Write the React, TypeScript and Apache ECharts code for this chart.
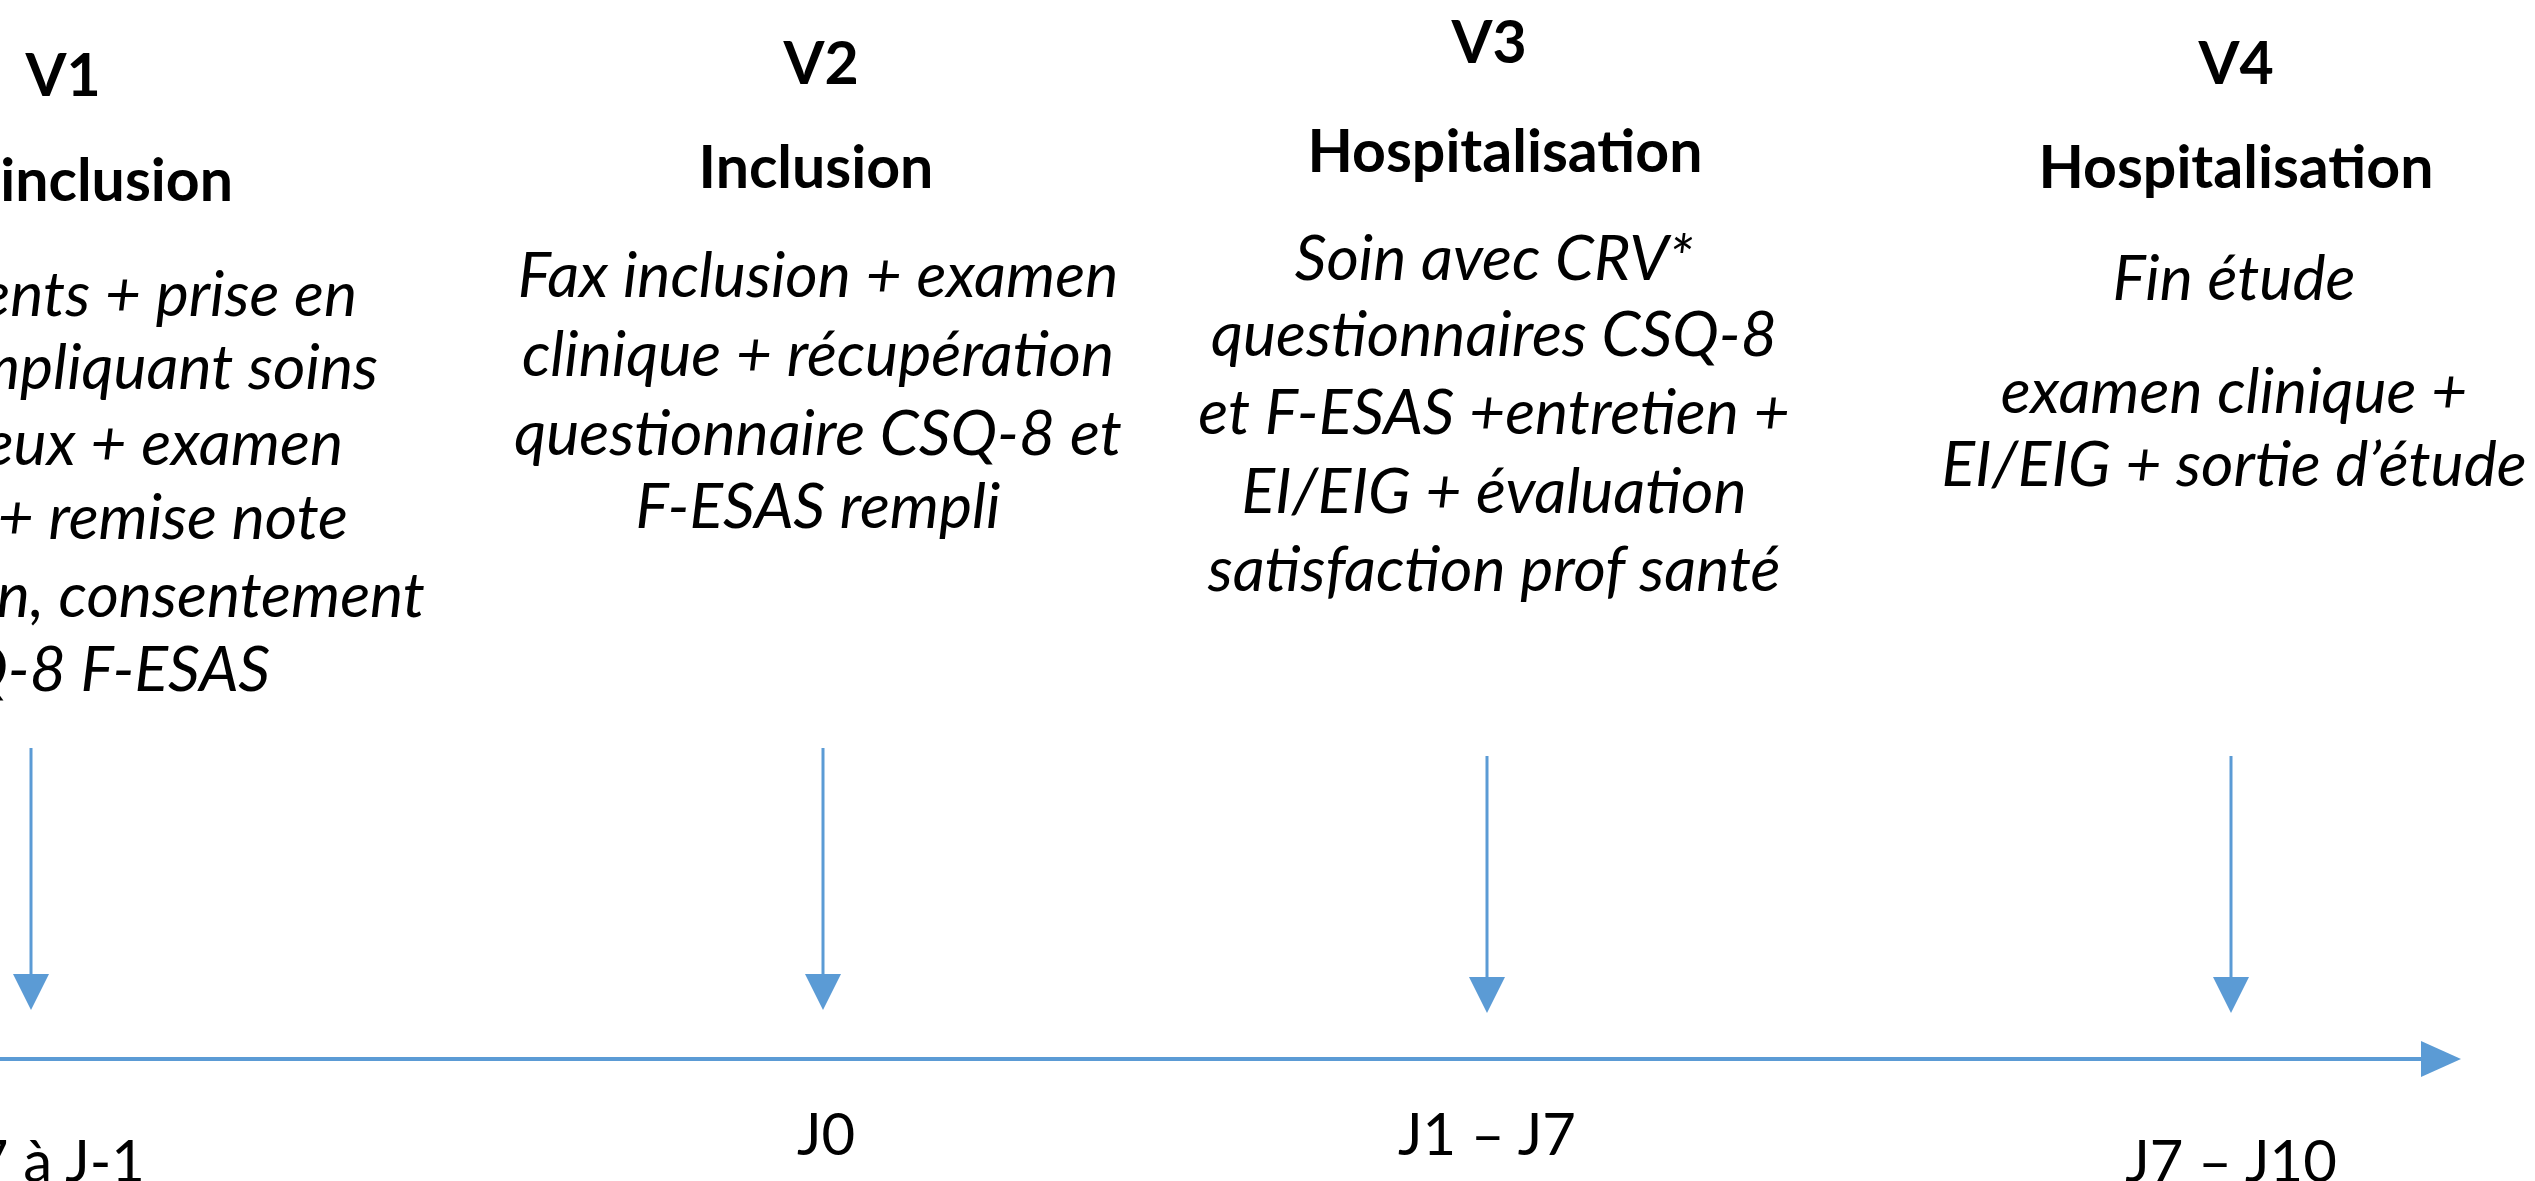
import React, { useEffect, useRef } from "react";
import * as echarts from "echarts";

const W = 2535;
const H = 1181;

// ---- content ----
const visitLabels = ["V1", "V2", "V3", "V4"];
const visitTitles = ["Pré-inclusion", "Inclusion", "Hospitalisation", "Hospitalisation"];
const visitDescriptions = [
  [
    "Sélection patients + prise en",
    "charge impliquant soins",
    "douloureux + examen",
    "clinique + remise note",
    "d'information, consentement",
    "et CSQ-8 F-ESAS",
  ],
  ["Fax inclusion + examen", "clinique + récupération", "questionnaire CSQ-8 et", "F-ESAS rempli"],
  ["Soin avec CRV*", "questionnaires CSQ-8", "et F-ESAS +entretien +", "EI/EIG + évaluation", "satisfaction prof santé"],
  ["Fin étude", "examen clinique +", "EI/EIG + sortie d’étude"],
];
const dayLabels = ["J-7 à J-1", "J0", "J1 – J7", "J7 – J10"];

// positions of the visits on the timeline (layout units, 0..W)
const visitPositions = [31, 823, 1487, 2231];
const timelineStart = 0;
const timelineEnd = 2461;

// ---- layout (not data) ----
const LAYOUT = {
  labelX: [63, 821, 1489, 2236],
  labelY: [73, 61, 40, 61],
  titleX: [233, 816, 1505, 2236],
  titleAlign: ["right", "center", "center", "center"],
  titleY: [178, 165, 149, 165],
  descX: [
    [357, 378, 343, 348, 425, 270],
    [818, 818, 818, 818],
    [1494, 1494, 1494, 1494, 1494],
    [2234, 2234, 2234],
  ],
  descAlign: ["right", "center", "center", "center"],
  descY: [
    [291, 364, 440, 514, 592, 666],
    [272, 351, 430, 503],
    [255, 331, 409, 488, 566],
    [275, 388, 461],
  ],
  dayX: [145, 826, 1487, 2231],
  dayAlign: ["right", "center", "center", "center"],
  dayY: [1159, 1132, 1132, 1159],
  arrowTop: [748, 748, 756, 756],
  arrowTip: [1010, 1010, 1013, 1013],
  timelineY: 1059,
};

const BLUE = "#5B9BD5";
const FONT = "Lato, 'Noto Sans', sans-serif";
const FS_BOLD = 59;
const FS_ITALIC = 62.5;
const FS_REG = 58;

type TextItem = {
  x: number;
  y: number;
  text: string;
  align: string;
  weight: string;
  style: string;
  size: number;
};

export default function App() {
  const ref = useRef<HTMLDivElement>(null);

  useEffect(() => {
    const chart = echarts.init(ref.current!, null, { renderer: "svg" });

    const texts: TextItem[] = [];
    visitLabels.forEach((t, i) =>
      texts.push({ x: LAYOUT.labelX[i], y: LAYOUT.labelY[i], text: t, align: "center", weight: "bold", style: "normal", size: FS_BOLD })
    );
    visitTitles.forEach((t, i) =>
      texts.push({ x: LAYOUT.titleX[i], y: LAYOUT.titleY[i], text: t, align: LAYOUT.titleAlign[i], weight: "bold", style: "normal", size: FS_BOLD })
    );
    visitDescriptions.forEach((lines, i) =>
      lines.forEach((t, j) =>
        texts.push({ x: LAYOUT.descX[i][j], y: LAYOUT.descY[i][j], text: t, align: LAYOUT.descAlign[i], weight: "normal", style: "italic", size: FS_ITALIC })
      )
    );
    dayLabels.forEach((t, i) =>
      texts.push({ x: LAYOUT.dayX[i], y: LAYOUT.dayY[i], text: t, align: LAYOUT.dayAlign[i], weight: "normal", style: "normal", size: FS_REG })
    );

    const arrowData = visitPositions.map((x, i) => [x, LAYOUT.arrowTop[i], LAYOUT.arrowTip[i]]);

    const option: any = {
      animation: false,
      backgroundColor: "#ffffff",
      grid: { left: 0, right: 0, top: 0, bottom: 0, containLabel: false },
      xAxis: { type: "value", min: 0, max: W, show: false },
      yAxis: { type: "value", min: 0, max: H, inverse: true, show: false },
      series: [
        {
          type: "custom",
          name: "timeline",
          silent: true,
          data: [[timelineStart, timelineEnd, LAYOUT.timelineY]],
          renderItem: (params: any, api: any) => {
            const a = api.coord([api.value(0), api.value(2)]);
            const b = api.coord([api.value(1), api.value(2)]);
            const headL = 40;
            const headW = 18;
            return {
              type: "group",
              children: [
                {
                  type: "line",
                  shape: { x1: a[0] - 10, y1: a[1], x2: b[0] - headL + 2, y2: b[1] },
                  style: { stroke: BLUE, lineWidth: 4 },
                },
                {
                  type: "polygon",
                  shape: {
                    points: [
                      [b[0], b[1]],
                      [b[0] - headL, b[1] - headW],
                      [b[0] - headL, b[1] + headW],
                    ],
                  },
                  style: { fill: BLUE },
                },
              ],
            };
          },
        },
        {
          type: "custom",
          name: "visits",
          silent: true,
          data: arrowData,
          renderItem: (params: any, api: any) => {
            const top = api.coord([api.value(0), api.value(1)]);
            const tip = api.coord([api.value(0), api.value(2)]);
            const headL = 36;
            const headW = 18;
            return {
              type: "group",
              children: [
                {
                  type: "line",
                  shape: { x1: top[0], y1: top[1], x2: tip[0], y2: tip[1] - headL + 2 },
                  style: { stroke: BLUE, lineWidth: 3 },
                },
                {
                  type: "polygon",
                  shape: {
                    points: [
                      [tip[0], tip[1]],
                      [tip[0] - headW, tip[1] - headL],
                      [tip[0] + headW, tip[1] - headL],
                    ],
                  },
                  style: { fill: BLUE },
                },
              ],
            };
          },
        },
        {
          type: "custom",
          name: "texts",
          silent: true,
          data: texts.map((t) => [t.x, t.y]),
          renderItem: (params: any, api: any) => {
            const t = texts[params.dataIndex];
            const p = api.coord([api.value(0), api.value(1)]);
            return {
              type: "text",
              x: p[0],
              y: p[1],
              style: {
                text: t.text,
                align: t.align,
                verticalAlign: "middle",
                fontFamily: FONT,
                fontSize: t.size,
                fontWeight: t.weight,
                fontStyle: t.style,
                fill: "#000000",
              },
            };
          },
        },
      ],
    };

    chart.setOption(option);
    return () => chart.dispose();
  }, []);

  return (
    <div
      ref={ref}
      style={{ position: "fixed", left: 0, top: 0, width: W, height: H, background: "#ffffff" }}
    />
  );
}
